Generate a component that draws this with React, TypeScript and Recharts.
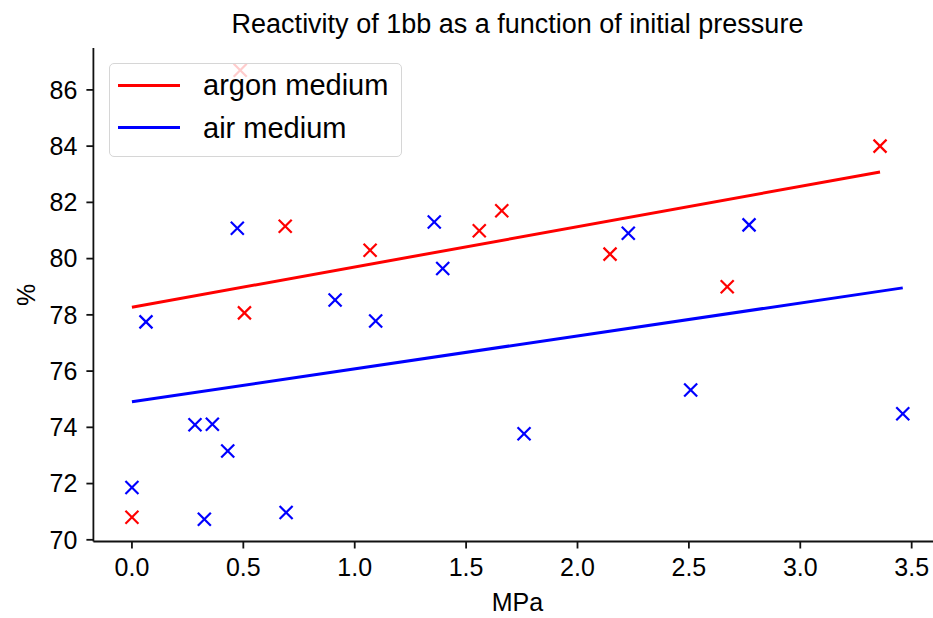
import React from "react";
import {
  ScatterChart,
  Scatter,
  XAxis,
  YAxis,
} from "recharts";

// Reactivity data (x: initial pressure in MPa, y: %)
const argonX = [0, 0.486, 0.505, 0.688, 1.069, 1.559, 1.66, 2.146, 2.672, 3.358];
const argonY = [70.8, 86.7, 78.07, 81.15, 80.3, 80.99, 81.7, 80.16, 79.0, 84.0];

const airX = [0, 0.063, 0.283, 0.325, 0.361, 0.43, 0.473, 0.692, 0.912, 1.094, 1.357, 1.395, 1.76, 2.228, 2.508, 2.77, 3.46];
const airY = [71.86, 77.75, 74.09, 70.73, 74.11, 73.16, 81.08, 70.97, 78.53, 77.78, 81.3, 79.65, 73.77, 80.9, 75.33, 81.2, 74.48];

// Fitted trend lines (end points)
const argonFitX = [0, 3.358];
const argonFitY = [78.27, 83.08];
const airFitX = [0, 3.46];
const airFitY = [74.91, 78.96];

const xTicks = [0, 0.5, 1.0, 1.5, 2.0, 2.5, 3.0, 3.5];
const yTicks = [70, 72, 74, 76, 78, 80, 82, 84, 86];

const seriesNames = ["argon medium", "air medium"];
const seriesColors = ["#ff0000", "#0000ff"];

const zip = (xs: number[], ys: number[]) => xs.map((x, i) => ({ x, y: ys[i] }));

const argonData = zip(argonX, argonY);
const airData = zip(airX, airY);
const argonFit = zip(argonFitX, argonFitY);
const airFit = zip(airFitX, airFitY);

const FONT = "'Liberation Sans', Arial, Helvetica, sans-serif";

const makeX = (color: string) => (props: any) => {
  const { cx, cy } = props;
  if (cx == null || cy == null) return <g />;
  const r = 6.5;
  return (
    <g stroke={color} strokeWidth={2.2} strokeLinecap="butt">
      <line x1={cx - r} y1={cy - r} x2={cx + r} y2={cy + r} />
      <line x1={cx - r} y1={cy + r} x2={cx + r} y2={cy - r} />
    </g>
  );
};

const Empty = () => <g />;

const LegendBox = () => (
  <div
    style={{
      position: "absolute",
      left: 109,
      top: 63,
      boxSizing: "border-box",
      width: 293,
      height: 94,
      border: "1.5px solid #d6d6d6",
      borderRadius: 5,
      background: "rgba(255,255,255,0.8)",
      fontFamily: FONT,
      fontSize: 29,
      color: "#000",
    }}
  >
    {seriesNames.map((name, i) => (
      <div
        key={name}
        style={{
          position: "absolute",
          left: 0,
          top: 22.7 + i * 42.6 - 21 - 1.5,
          height: 42,
          display: "flex",
          alignItems: "center",
        }}
      >
        <div
          style={{
            marginLeft: 8,
            width: 62,
            height: 3,
            background: seriesColors[i],
          }}
        />
        <span style={{ marginLeft: 23, lineHeight: "42px", whiteSpace: "nowrap" }}>{name}</span>
      </div>
    ))}
  </div>
);

export default function App() {
  return (
    <div
      style={{
        position: "fixed",
        left: 0,
        top: 0,
        width: 933,
        height: 618,
        overflow: "hidden",
        background: "#fff",
      }}
    >
      <svg
        width={933}
        height={48}
        style={{ position: "absolute", left: 0, top: 0, pointerEvents: "none" }}
      >
        <text
          x={517.5}
          y={33}
          textAnchor="middle"
          fontFamily={FONT}
          fontSize={27}
          fill="#000"
        >
          Reactivity of 1bb as a function of initial pressure
        </text>
      </svg>
      <div style={{ position: "absolute", left: 0, top: 0 }}>
        <ScatterChart
          width={960}
          height={618}
          margin={{ top: 48, right: 18.7, bottom: 0, left: 0 }}
        >
          <XAxis
            xAxisId="top"
            orientation="top"
            type="number"
            dataKey="x"
            domain={[-0.173, 3.633]}
            allowDataOverflow
            height={0}
            tick={false}
            tickLine={false}
            axisLine={{ stroke: "#111", strokeWidth: 1.8 }}
          />
          <XAxis
            type="number"
            dataKey="x"
            domain={[-0.173, 3.633]}
            allowDataOverflow
            ticks={xTicks}
            tickFormatter={(v: number) => v.toFixed(1)}
            height={76.5}
            tickSize={7}
            tickMargin={10}
            interval={0}
            axisLine={{ stroke: "#111", strokeWidth: 1.8 }}
            tickLine={{ stroke: "#111", strokeWidth: 1.8 }}
            tick={{ fill: "#000", fontSize: 25, fontFamily: FONT }}
            label={{
              value: "MPa",
              position: "insideBottom",
              offset: 7,
              fill: "#000",
              fontSize: 25,
              fontFamily: FONT,
            }}
          />
          <YAxis
            type="number"
            dataKey="y"
            domain={[69.94, 87.49]}
            allowDataOverflow
            ticks={yTicks}
            interval={0}
            width={93.4}
            tickSize={7}
            tickMargin={9}
            axisLine={{ stroke: "#111", strokeWidth: 1.8 }}
            tickLine={{ stroke: "#111", strokeWidth: 1.8 }}
            tick={{ fill: "#000", fontSize: 25, fontFamily: FONT }}
            label={(props: any) => {
              const vb = props.viewBox || { x: 0, y: 48, width: 93.4, height: 493.5 };
              const cx = vb.x + 26;
              const cy = vb.y + vb.height / 2;
              return (
                <text
                  x={cx}
                  y={cy}
                  transform={`rotate(-90 ${cx} ${cy})`}
                  textAnchor="middle"
                  dominantBaseline="central"
                  fontFamily={FONT}
                  fontSize={25}
                  fill="#000"
                >
                  %
                </text>
              );
            }}
          />
          <Scatter
            name="argon points"
            data={argonData}
            shape={makeX(seriesColors[0])}
            isAnimationActive={false}
          />
          <Scatter
            name="air points"
            data={airData}
            shape={makeX(seriesColors[1])}
            isAnimationActive={false}
          />
          <Scatter
            name={seriesNames[0]}
            data={argonFit}
            line={{ stroke: seriesColors[0], strokeWidth: 3 }}
            lineType="joint"
            shape={Empty}
            isAnimationActive={false}
          />
          <Scatter
            name={seriesNames[1]}
            data={airFit}
            line={{ stroke: seriesColors[1], strokeWidth: 3 }}
            lineType="joint"
            shape={Empty}
            isAnimationActive={false}
          />
        </ScatterChart>
      </div>
      <LegendBox />
    </div>
  );
}
